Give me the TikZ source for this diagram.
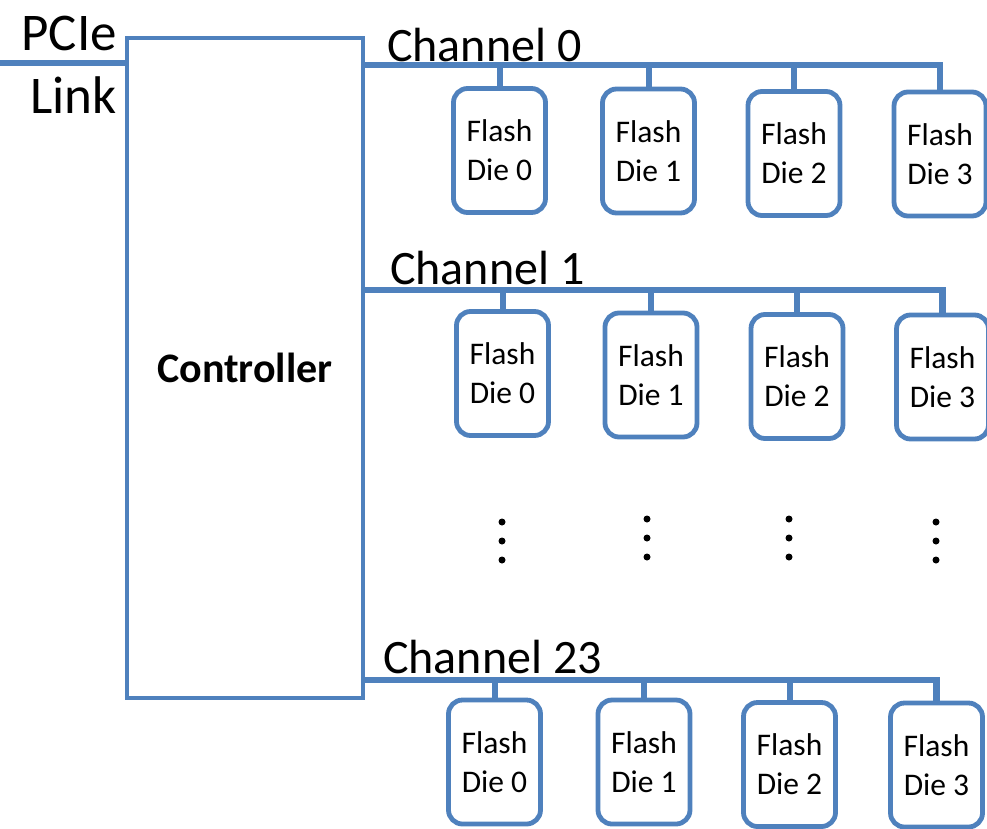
\documentclass[tikz,border=0pt]{standalone}
\usepackage{fontspec}
\setmainfont{Carlito}
\definecolor{ablue}{RGB}{79,129,189}
\begin{document}
\begin{tikzpicture}[x=1pt,y=-1pt,
  die/.style={draw=ablue,line width=4.8pt,rounded corners=14pt,fill=white,
    minimum width=92pt,minimum height=124pt,align=center,inner sep=0pt,
    font=\fontsize{31.5}{39}\selectfont},
  bus/.style={draw=ablue,line width=6.5pt},
  stub/.style={draw=ablue,line width=6pt},
  lbl/.style={anchor=west,inner sep=0pt,font=\fontsize{48}{52}\selectfont},
  side/.style={anchor=east,inner sep=0pt,font=\fontsize{53}{56}\selectfont},
  dotm/.style={circle,fill=black,inner sep=0pt,minimum size=7pt}]
\useasboundingbox (0,0) rectangle (987,828);
% controller
\node[draw=ablue,line width=4.8pt,minimum width=236pt,minimum height=660pt,inner sep=0pt,
  font=\fontsize{42}{46}\selectfont\bfseries] (ctrl) at (245,368) {Controller};
% PCIe link
\coordinate (pcie) at (0,63);
\draw[stub] (pcie) -- (ctrl.west |- pcie);
\node[side] (pcielbl) at (117,33) {PCIe};
\node[side] (linklbl) at (117,95) {Link};
% channel labels
\node[lbl] (c0lbl) at (387,45) {Channel 0};
\node[lbl] (c1lbl) at (390,268) {Channel 1};
\node[lbl] (c23lbl) at (383,657) {Channel 23};
% channel 0
\node[die] (a0) at (499.5,150.5) {Flash\\Die 0};
\node[die] (a1) at (648.5,151) {Flash\\Die 1};
\node[die] (a2) at (794,153.5) {Flash\\Die 2};
\node[die] (a3) at (940,154) {Flash\\Die 3};
\coordinate (b0) at (363,65);
\draw[bus] (ctrl.east |- b0) -- (a3.north |- b0) -- (a3.north);
\foreach \d in {a0,a1,a2} \draw[stub] (\d.north |- b0) -- (\d.north);
% channel 1
\node[die] (b0d) at (502.5,373.5) {Flash\\Die 0};
\node[die] (b1d) at (651,375) {Flash\\Die 1};
\node[die] (b2d) at (797,376.5) {Flash\\Die 2};
\node[die] (b3d) at (942.5,377) {Flash\\Die 3};
\coordinate (b1) at (363,290);
\draw[bus] (ctrl.east |- b1) -- (b3d.north |- b1) -- (b3d.north);
\foreach \d in {b0d,b1d,b2d} \draw[stub] (\d.north |- b1) -- (\d.north);
% channel 23
\node[die] (c0d) at (494.5,762) {Flash\\Die 0};
\node[die] (c1d) at (644,762) {Flash\\Die 1};
\node[die] (c2d) at (789.5,764.5) {Flash\\Die 2};
\node[die] (c3d) at (936.5,765) {Flash\\Die 3};
\coordinate (b23) at (363,680);
\draw[bus] (ctrl.east |- b23) -- (c3d.north |- b23) -- (c3d.north);
\foreach \d in {c0d,c1d,c2d} \draw[stub] (\d.north |- b23) -- (\d.north);
% dots
\foreach \x/\y in {502/522,647/519,789/519,936/522}{
  \node[dotm] at (\x,\y) {};
  \node[dotm] at (\x,\y+19) {};
  \node[dotm] at (\x,\y+38) {};
}
\end{tikzpicture}
\end{document}
